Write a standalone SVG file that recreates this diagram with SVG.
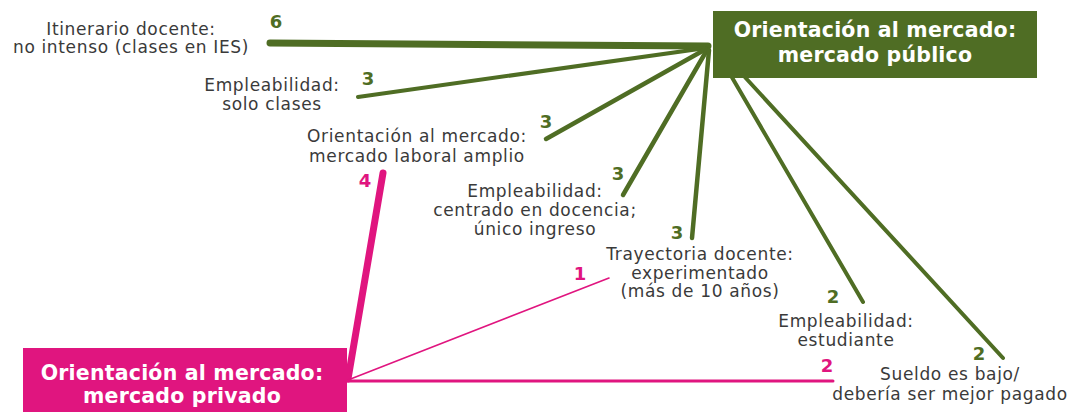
<svg xmlns="http://www.w3.org/2000/svg" width="1085" height="412" viewBox="0 0 1085 412">
<style>
.lbl{font-family:"DejaVu Sans","Liberation Sans",sans-serif;font-size:17px;letter-spacing:0.65px;fill:#3a3a3a;text-anchor:middle}
.num{font-family:"DejaVu Sans","Liberation Sans",sans-serif;font-size:18px;font-weight:bold;text-anchor:middle}
.g{fill:#4f6d24}
.p{fill:#e0157f}
.box{font-family:"DejaVu Sans","Liberation Sans",sans-serif;font-size:20.5px;letter-spacing:0.2px;font-weight:bold;fill:#ffffff;text-anchor:middle}
.gl{stroke:#4f6d24;fill:none;stroke-linecap:round}
.pl{stroke:#e0157f;fill:none;stroke-linecap:round}
</style>
<rect width="1085" height="412" fill="#ffffff"/>
<g id="connectors">
<line class="gl" x1="270" y1="43" x2="708" y2="46" stroke-width="7"/>
<line class="gl" x1="358" y1="97" x2="706" y2="48" stroke-width="4"/>
<line class="gl" x1="546" y1="139" x2="706" y2="49" stroke-width="4.5"/>
<line class="gl" x1="623" y1="195" x2="707" y2="50" stroke-width="4.5"/>
<line class="gl" x1="692" y1="238" x2="709" y2="50" stroke-width="4.5"/>
<line class="gl" x1="863" y1="302" x2="716" y2="50" stroke-width="4"/>
<line class="gl" x1="1003" y1="358" x2="720" y2="50" stroke-width="4"/>
<line class="pl" x1="383" y1="173" x2="348" y2="379" stroke-width="7"/>
<line class="pl" x1="609" y1="278" x2="348" y2="380" stroke-width="1.6"/>
<line class="pl" x1="348" y1="381" x2="833" y2="381" stroke-width="3"/>
</g>
<g id="publico">
<rect x="713" y="11" width="324" height="67" fill="#4f6d24"/>
<text class="box" x="875" y="37">Orientación al mercado:</text>
<text class="box" x="875" y="62">mercado público</text>
</g>
<g id="privado">
<rect x="23" y="348" width="324" height="70" fill="#e0157f"/>
<text class="box" x="182" y="380">Orientación al mercado:</text>
<text class="box" x="182" y="403">mercado privado</text>
</g>
<g id="itinerario">
<text class="lbl" x="131" y="35">Itinerario docente:</text>
<text class="lbl" x="131" y="53">no intenso (clases en IES)</text>
<text class="num g" x="276" y="28">6</text>
</g>
<g id="solo-clases">
<text class="lbl" x="272" y="91">Empleabilidad:</text>
<text class="lbl" x="272" y="110">solo clases</text>
<text class="num g" x="368" y="85">3</text>
</g>
<g id="laboral-amplio">
<text class="lbl" x="417" y="142">Orientación al mercado:</text>
<text class="lbl" x="417" y="162">mercado laboral amplio</text>
<text class="num g" x="546" y="128">3</text>
<text class="num p" x="365" y="187">4</text>
</g>
<g id="centrado-docencia">
<text class="lbl" x="535" y="197">Empleabilidad:</text>
<text class="lbl" x="535" y="216">centrado en docencia;</text>
<text class="lbl" x="535" y="235">único ingreso</text>
<text class="num g" x="618" y="180">3</text>
</g>
<g id="trayectoria">
<text class="lbl" x="700" y="260">Trayectoria docente:</text>
<text class="lbl" x="700" y="279">experimentado</text>
<text class="lbl" x="700" y="297">(más de 10 años)</text>
<text class="num g" x="677" y="239">3</text>
<text class="num p" x="580" y="280">1</text>
</g>
<g id="estudiante">
<text class="lbl" x="846" y="327">Empleabilidad:</text>
<text class="lbl" x="846" y="346">estudiante</text>
<text class="num g" x="833" y="303">2</text>
</g>
<g id="sueldo">
<text class="lbl" x="950" y="380">Sueldo es bajo/</text>
<text class="lbl" x="950" y="400">debería ser mejor pagado</text>
<text class="num g" x="979" y="360">2</text>
<text class="num p" x="827" y="372">2</text>
</g>
</svg>
